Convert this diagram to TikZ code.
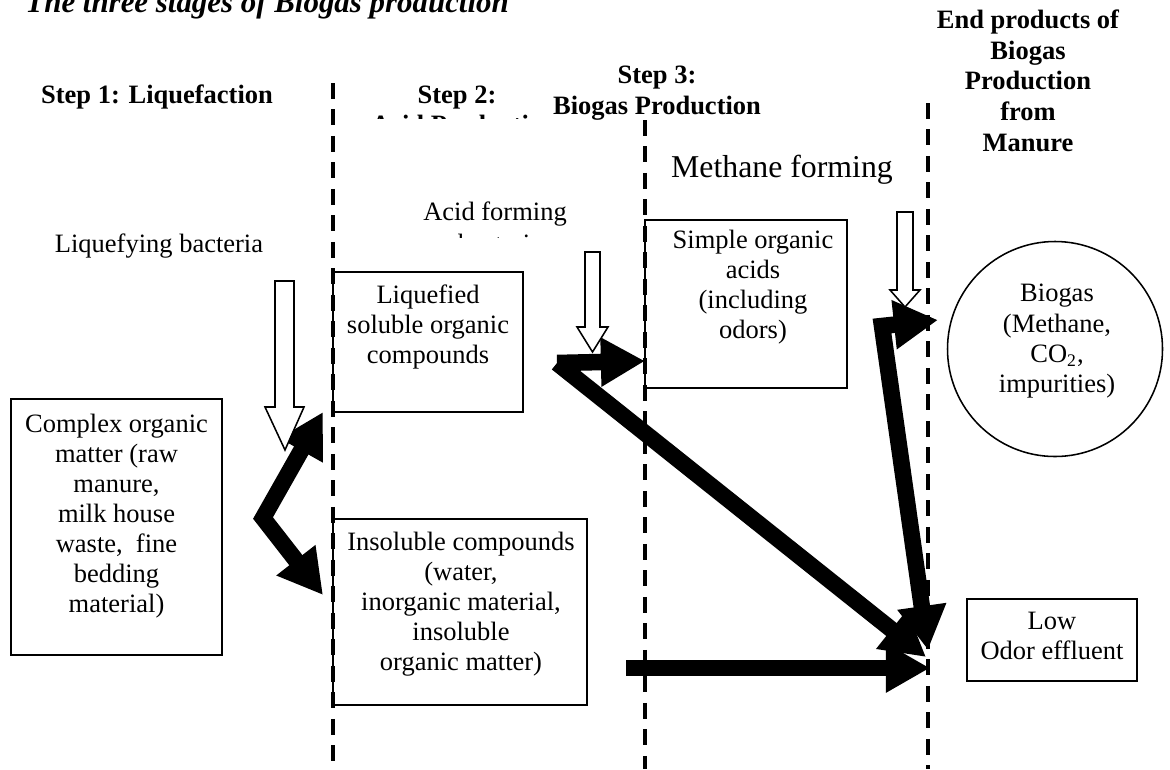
\documentclass[tikz,border=0pt]{standalone}
\usepackage{fontspec}
\setmainfont{Liberation Serif}
\usetikzlibrary{arrows.meta,fit}

\begin{document}
\begin{tikzpicture}[x=0.453pt,y=-0.453pt,
	box/.style={draw,line width=0.7pt,inner sep=0pt},
	txt/.style={align=center,inner sep=0pt,font=\fontsize{12}{13.6}\selectfont},
	hdr/.style={align=center,inner sep=0pt,font=\fontsize{12}{14}\selectfont\bfseries},
	stage/.style={line width=1.4pt,dash pattern=on 7.2pt off 4.8pt},
	flow/.style={line width=7.5pt,line join=miter},
	feed/.style={draw,fill=white,line width=0.7pt},
	bigtip/.tip={Triangle[width=21pt,length=20pt]}]

\useasboundingbox (0,0) rectangle (1170,769);

% title (cut at the top)
\node[anchor=base west,inner sep=0pt,font=\fontsize{14}{17}\selectfont\bfseries\itshape] (title) at (25,12) {The three stages of Biogas production};

% headings
\node[hdr,anchor=base] (s1) at (157,103) {Step 1: Liquefaction};
\node[hdr,anchor=base] (s2) at (457,103) {Step 2:};
\begin{scope}
\clip (340,0) rectangle (640,118);
\node[hdr,anchor=base] (s2b) at (464,133) {Acid Production};
\end{scope}
\node[hdr,anchor=north] (s3) at (657,66) {Step 3:\\Biogas Production};
\node[hdr,anchor=north] (s4) at (1028,9) {End products of\\Biogas\\Production\\from\\Manure};

% bacteria
\node[txt,anchor=base] (liqbac) at (159,252) {Liquefying bacteria};
\node[txt,anchor=base] (acidbac) at (495,220) {Acid forming};
\begin{scope}
\clip (340,222) rectangle (640,237.5);
\node[txt,anchor=base] (acidbacb) at (500,252) {bacteria};
\end{scope}
\node[txt,anchor=base,font=\fontsize{14.4}{17}\selectfont] (methbac) at (782,177) {Methane forming};

% boxes
\node[box,fit={(11,399) (222,655)}] (cplx) {};
\node[box,fit={(333,272) (523,412)}] (liq) {};
\node[box,fit={(333,519) (587,705)}] (insol) {};
\node[box,fit={(645,220) (847,388)}] (simple) {};
\node[box,fit={(967,599) (1137,681)}] (effl) {};
\node[box,circle,minimum size=97.4pt] (biogas) at (1055,349) {};

% box texts
\node[txt,anchor=north] (cplxtxt) at (116.5,414) {Complex organic\\matter (raw\\manure,\\milk house\\waste,~ fine\\bedding\\material)};
\node[txt,anchor=north] (liqtxt) at (428,284) {Liquefied\\soluble organic\\compounds};
\node[txt,anchor=north] (insoltxt) at (461,532) {Insoluble compounds\\(water,\\inorganic material,\\insoluble\\organic matter)};
\node[txt,anchor=north] (simpletxt) at (753,230) {Simple organic\\acids\\(including\\odors)};
\node[txt,anchor=north] (biogastxt) at (1057,284) {Biogas\\(Methane,\\CO\textsubscript{2},\\impurities)};
\node[txt,anchor=north] (effltxt) at (1052,612) {Low\\Odor effluent};

% stage borders
\draw[stage] (333,83) -- (333,769);
\draw[stage] (645,120) -- (645,769);
\draw[stage] (928,103) -- (928,769);

% flows
\coordinate (fork1) at (263,518);
\coordinate (liqin) at (323,412);
\coordinate (insolin) at (323,595);
\coordinate (fork2) at (557,363);
\coordinate (simplein) at (645,361);
\coordinate (efflA) at (926,657);
\coordinate (fork3) at (882,326);
\coordinate (biogasin) at (938,320);
\coordinate (efflB) at (928,650);
\coordinate (insolout) at (626,668);
\coordinate (efflC) at (930,668);

\draw[flow,bigtip-bigtip] (liqin) -- (fork1) -- (insolin);
\draw[flow,-bigtip] (fork2) -- (efflA);
\draw[flow,-bigtip] (fork2) -- (simplein);
\draw[flow,bigtip-bigtip] (biogasin) -- (fork3) -- (efflB);
\draw[flow,-bigtip] (insolout) -- (efflC);

% bacteria feed arrows
\draw[feed] (275,281) -- (294,281) -- (294,407) -- (304,407) -- (285,450) -- (265,407) -- (275,407) -- cycle;
\draw[feed] (585,252) -- (600,252) -- (600,327) -- (608,327) -- (592.5,352) -- (577,327) -- (585,327) -- cycle;
\draw[feed] (897,212) -- (913,212) -- (913,290) -- (920,290) -- (905,307) -- (890,290) -- (897,290) -- cycle;

\end{tikzpicture}
\end{document}
